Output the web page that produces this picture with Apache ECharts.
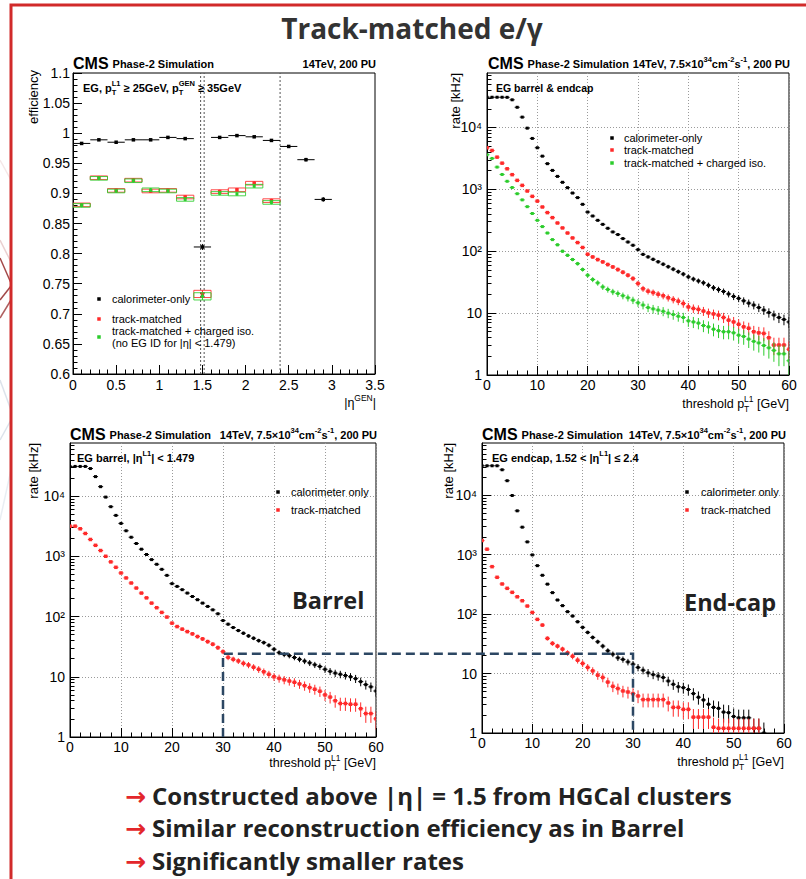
<!DOCTYPE html>
<html>
<head>
<meta charset="utf-8">
<title>Track-matched e/γ</title>
<script src="https://cdn.jsdelivr.net/npm/echarts@6.0.0/dist/echarts.min.js"></script>
<style>
html,body{margin:0;padding:0;background:#ffffff;}
#chart{width:806px;height:879px;}
</style>
</head>
<body>
<div id="chart"></div>
<script>
// ---------------- data ----------------
// Panel 1: efficiency vs |eta_GEN|
const etaBins      = [0.1,0.3,0.5,0.7,0.9,1.1,1.3,1.5,1.7,1.9,2.1,2.3,2.5,2.7,2.9];
const etaHalfWidth = 0.1;
const effCalo      = [0.983,0.989,0.985,0.989,0.989,0.993,0.991,0.811,0.993,0.996,0.994,0.988,0.978,0.956,0.890];
const effCaloErr   = [0.002,0.002,0.002,0.002,0.002,0.002,0.002,0.005,0.002,0.002,0.002,0.002,0.002,0.003,0.004];
const effTrk       = [0.881,0.926,0.905,0.922,0.904,0.905,0.894,0.733,0.903,0.906,0.917,0.888];
const effTrkErr    = [0.003,0.003,0.003,0.003,0.003,0.003,0.003,0.006,0.003,0.003,0.003,0.003];
const effIso       = [0.880,0.925,0.904,0.921,0.906,0.904,0.890,0.729,0.900,0.899,0.912,0.885];
const effIsoErr    = [0.003,0.003,0.003,0.003,0.003,0.003,0.003,0.006,0.003,0.003,0.003,0.003];
const etaBoundaries = [1.479,1.52,2.4];

// Rate panels: threshold in GeV
const thresholds = [0,1,2,3,4,5,6,7,8,9,10,11,12,13,14,15,16,17,18,19,20,21,22,23,24,25,26,27,28,29,30,
                    31,32,33,34,35,36,37,38,39,40,41,42,43,44,45,46,47,48,49,50,51,52,53,54,55,56,57,58,59,60];
const thrHalfWidth = 0.5;

// Panel 2: EG barrel & endcap
const rateAllCalo = [30800,30800,30800,30800,30700,28000,21200,14700,9750,6650,
                     4700,3440,2600,2025,1620,1300,1065,872,735,573,
                     430,371,316,272,235,205,186,160,141,125,
                     106,89,81,74,67.6,61.7,56.2,51.3,46.8,42.7,
                     38.5,35.5,33.1,30.9,28.2,25.7,24,22.4,20.4,18.6,
                     17.3,15.8,14.5,13.5,12.3,11.2,10.2,9.3,8.5,7.9,7.2];
const rateAllTrk  = [4700,4250,3315,2650,2150,1727,1397,1160,940,771,
                     646,519,421,349,286,238,197,164,138,115,
                     89.5,80.9,73.3,67.3,61,55.8,50.6,45.8,41,36.2,
                     30.1,24.8,22.6,21.5,20.2,19.1,17.7,16.6,15.6,14.3,
                     12.6,11.9,11.5,10.8,10.1,9.7,9.3,8.5,7.7,7.2,
                     6.6,6.0,5.7,5.0,4.8,4.7,4.0,3.05,3.05,3.05,2.6];
const rateAllIso  = [3630,3160,2290,1740,1350,1070,850,676,525,407,
                     316,250,197,154,127,100,86,73.5,63,50.7,
                     41,34.9,30.8,26.5,24.1,22.1,20.7,19.1,17.7,16.2,
                     14.7,13.5,12.3,11.7,11.2,10.7,10,9.5,8.9,8.5,
                     7.5,7.2,6.9,6.3,6.0,5.5,5.2,5.0,5.0,4.8,
                     4.4,4.2,3.8,3.5,3.3,3.0,2.75,2.5,2.2,2.2,1.7];
// Panel 3: EG barrel
const rateBarCalo = [31000,31000,31000,31000,28600,21000,14300,9600,6650,4770,
                     3510,2650,2070,1630,1310,1070,880,736,607,482,
                     351,316,279,245,215,190,167,147,129,111,
                     85.7,74.6,65.6,58.5,52.8,47.6,43.6,39.8,36.9,33.3,
                     28.6,25.1,23.4,22.4,20.9,19.5,18.2,17.0,15.8,14.8,
                     13.3,12.3,11.5,11.0,10.5,10.0,9.3,8.3,7.4,6.8,5.8];
const rateBarTrk  = [3160,3160,2860,2390,1900,1520,1245,1000,807,656,
                     528,437,360,297,245,204,167,140,117,98,
                     77.6,68.1,61.7,56.2,51.5,46.5,42.5,38.3,34.7,30.4,
                     26.1,21.0,19.5,18.3,16.7,15.7,14.4,13.3,12.1,11.0,
                     10.0,9.4,8.9,8.5,8.1,7.6,7.1,6.6,6.2,5.75,
                     5.0,4.6,4.0,3.6,3.6,3.5,3.5,2.95,2.45,2.45,2.0];
// Panel 4: EG endcap
const rateEndCalo = [31400,31400,31400,31400,26900,17600,9930,5480,2910,1645,
                     993,655,451,320,230,173,139,110,93,74.5,
                     60,49.3,40.6,34.3,29.0,24.2,21.2,18.4,17.3,15.7,
                     14.4,12.7,11.4,10.3,9.6,9.1,8.6,7.5,6.6,6.0,
                     5.8,5.4,4.6,4.0,3.6,3.05,2.7,2.6,2.25,2.2,
                     1.9,1.8,1.8,1.8,1.2,1.2,1.0,null,null,null,null];
const rateEndTrk  = [1730,1240,630,417,322,272,233,196,168,137,
                     107,81.7,65.5,39.1,32.2,29.0,25.8,22.3,19.6,16.8,
                     14.8,12.7,11.1,9.4,8.6,7.2,6.1,5.6,5.1,4.9,
                     4.6,4.2,3.65,3.65,3.65,3.65,3.65,3.2,2.7,2.7,
                     2.5,2.5,1.85,1.85,1.85,1.85,1.25,1.2,1.2,1.2,
                     1.2,1.2,1.2,1.2,1.2,1.2,null,null,null,null,null];
// statistical scale (kHz per event) used for the error bars of each rate panel
const kHzPerEventAll = 0.3, kHzPerEventBar = 0.22, kHzPerEventEnd = 0.25;

// axis ticks
const rateTickValues = [1,10,100,1000,10000];
const rateTickLabels = ['1','10','10\u00b2','10\u00b3','10\u2074'];
const rateAxisMax = 75900;
// dashed comparison: threshold 30 GeV, barrel rate level
const refThreshold = 30, refRate = 24;

// ---------------- helpers ----------------
const FAM = '"Liberation Sans", Arial, Helvetica, sans-serif';
const OS  = '"Open Sans", "Noto Sans", sans-serif';
const BLACK = '#000000', RED = '#ff2a2a', GREEN = '#2ccc2c';

const mctx = document.createElement('canvas').getContext('2d');
function font(size, bold, fam) { return (bold ? 'bold ' : '') + size + 'px ' + (fam || FAM); }
function tw(str, f) { mctx.font = f; return mctx.measureText(str).width; }

const els = [];
function T(text, x, y, size, o) {
  o = o || {};
  els.push({
    type: 'text', x: x, y: y, rotation: o.rot || 0, silent: true, z: 100,
    style: { text: text, x: 0, y: 0, font: font(size, o.bold, o.fam), fill: o.color || '#000',
             textAlign: o.align || 'left', textVerticalAlign: o.va || 'middle' }
  });
}
// run of text pieces with stacked super/subscripts
function run(parts, x, y, align, color) {
  const ws = parts.map(p => {
    const f = font(p.s, p.b);
    if (p.t == null) return Math.max(p.sup ? tw(p.sup, f) : 0, p.sub ? tw(p.sub, f) : 0);
    return tw(p.t, f);
  });
  const total = ws.reduce((a, b) => a + b, 0);
  let cx = align === 'right' ? x - total : (align === 'center' ? x - total / 2 : x);
  parts.forEach((p, i) => {
    if (p.t != null) T(p.t, cx, y, p.s, { bold: p.b, color: color });
    if (p.sup != null) T(p.sup, cx, y + (p.up || -5), p.s, { bold: p.b, color: color });
    if (p.sub != null) T(p.sub, cx, y + (p.dn || 5), p.s, { bold: p.b, color: color });
    cx += ws[i];
  });
}
function rect(x, y, w, h, fill) {
  els.push({ type: 'rect', silent: true, z: 100, shape: { x: x, y: y, width: w, height: h }, style: { fill: fill } });
}

function errRender(color, box, ms) {
  return function (params, api) {
    const x = api.value(0), y = api.value(1), lo = api.value(2), hi = api.value(3);
    const x0 = api.value(4), x1 = api.value(5);
    const c = api.coord([x, y]);
    const l = api.coord([x0, y]), r = api.coord([x1, y]);
    const b = api.coord([x, lo]), t = api.coord([x, hi]);
    const ch = [];
    if (box) {
      const top = Math.min(t[1], c[1] - 1.6), bot = Math.max(b[1], c[1] + 1.6);
      ch.push({ type: 'rect', shape: { x: l[0], y: top, width: r[0] - l[0], height: bot - top },
                style: { fill: 'none', stroke: color, lineWidth: 1, opacity: 0.85 } });
    } else {
      ch.push({ type: 'line', shape: { x1: l[0], y1: c[1], x2: r[0], y2: c[1] }, style: { stroke: color, lineWidth: 1 } });
    }
    ch.push({ type: 'line', shape: { x1: c[0], y1: b[1], x2: c[0], y2: t[1] }, style: { stroke: color, lineWidth: 1 } });
    ch.push({ type: 'rect', shape: { x: c[0] - ms / 2, y: c[1] - ms / 2, width: ms, height: ms }, style: { fill: color } });
    return { type: 'group', children: ch };
  };
}
function effPoints(vals, errs) {
  return vals.map((v, i) => [etaBins[i], v, v - errs[i], v + errs[i], etaBins[i] - etaHalfWidth, etaBins[i] + etaHalfWidth]);
}
function ratePoints(vals, k) {
  const pts = [];
  vals.forEach((v, i) => {
    if (v == null) return;
    const e = Math.sqrt(v * k);
    const t = thresholds[i];
    pts.push([t, v, Math.max(v - e, 1), v + e, Math.max(t - thrHalfWidth, 0), Math.min(t + thrHalfWidth, 60)]);
  });
  return pts;
}
function errSeries(xi, yi, pts, color, box, ms) {
  return { type: 'custom', xAxisIndex: xi, yAxisIndex: yi, clip: true, silent: true, animation: false,
           encode: { x: 0, y: 1 }, data: pts, renderItem: errRender(color, box, ms), z: 10 };
}

const tickStyle = { color: '#000', width: 1 };
const labelStyle = { fontSize: 14, color: '#000', fontFamily: FAM };
function gridBox(left, top, width, height) {
  return { left: left, top: top, width: width, height: height, show: true, borderColor: '#000', borderWidth: 1,
           containLabel: false, outerBoundsMode: 'none' };
}
function rateXAxis(gi) {
  return { type: 'value', gridIndex: gi, min: 0, max: 60, interval: 10,
           axisLine: { show: true, onZero: false, lineStyle: tickStyle },
           axisTick: { show: true, inside: true, length: 9, lineStyle: tickStyle },
           minorTick: { show: true, splitNumber: 5, length: 4.5, lineStyle: tickStyle },
           axisLabel: Object.assign({ margin: 3 }, labelStyle),
           splitLine: { show: true, lineStyle: { color: '#9a9a9a', type: [1, 2], width: 1 } } };
}
function rateYAxis(gi) {
  return { type: 'log', logBase: 10, gridIndex: gi, min: 1, max: rateAxisMax, position: 'left',
           axisLine: { show: true, onZero: false, lineStyle: tickStyle },
           axisTick: { show: true, inside: true, length: 9, lineStyle: tickStyle, customValues: rateTickValues },
           axisLabel: Object.assign({ margin: 5, customValues: rateTickValues,
             formatter: v => { const i = rateTickValues.findIndex(t => Math.abs(t - v) / t < 1e-6); return i >= 0 ? rateTickLabels[i] : ''; } }, labelStyle),
           splitLine: { show: true, lineStyle: { color: '#9a9a9a', type: [1, 2], width: 1 } } };
}
const rateMinorValues = [];
for (let d = 1; d <= 10000; d *= 10) for (let m = 2; m <= 9; m++) if (m * d < rateAxisMax) rateMinorValues.push(m * d);
function rateYMinor(gi) {
  return { type: 'log', logBase: 10, gridIndex: gi, min: 1, max: rateAxisMax, position: 'left', offset: 0,
           axisLine: { show: false },
           axisTick: { show: true, inside: true, length: 4.5, lineStyle: tickStyle, customValues: rateMinorValues },
           axisLabel: { show: false }, splitLine: { show: false } };
}

// ---------------- chart ----------------
const chart = echarts.init(document.getElementById('chart'), null, { renderer: 'svg', width: 806, height: 879 });

const option = {
  animation: false,
  backgroundColor: '#ffffff',
  grid: [gridBox(73, 73, 302, 301), gridBox(487, 73, 302, 302), gridBox(70, 443, 306, 294), gridBox(482, 443, 302, 290)],
  xAxis: [
    { type: 'value', gridIndex: 0, min: 0, max: 3.5, interval: 0.5,
      axisLine: { show: true, onZero: false, lineStyle: tickStyle },
      axisTick: { show: true, inside: true, length: 9, lineStyle: tickStyle },
      minorTick: { show: true, splitNumber: 5, length: 4.5, lineStyle: tickStyle },
      axisLabel: Object.assign({ margin: 4 }, labelStyle), splitLine: { show: false } },
    rateXAxis(1), rateXAxis(2), rateXAxis(3)
  ],
  yAxis: [
    { type: 'value', gridIndex: 0, min: 0.6, max: 1.1, interval: 0.05, position: 'left',
      axisLine: { show: true, onZero: false, lineStyle: tickStyle },
      axisTick: { show: true, inside: true, length: 9, lineStyle: tickStyle },
      minorTick: { show: true, splitNumber: 5, length: 4.5, lineStyle: tickStyle },
      axisLabel: Object.assign({ margin: 3 }, labelStyle), splitLine: { show: false } },
    rateYAxis(1), rateYMinor(1),
    rateYAxis(2), rateYMinor(2),
    rateYAxis(3), rateYMinor(3)
  ],
  series: [
    { type: 'custom', xAxisIndex: 0, yAxisIndex: 0, silent: true, animation: false, z: 5,
      encode: { x: 0 }, data: etaBoundaries.map(v => [v]),
      renderItem: function (params, api) {
        const v = api.value(0);
        const a = api.coord([v, 0.6]), b = api.coord([v, 1.1]);
        return { type: 'line', shape: { x1: a[0], y1: a[1], x2: b[0], y2: b[1] },
                 style: { stroke: '#555', lineWidth: 1, lineDash: [2, 2] } };
      } },
    errSeries(0, 0, effPoints(effCalo, effCaloErr), BLACK, false, 3.5),
    errSeries(0, 0, effPoints(effTrk, effTrkErr), RED, true, 3.5),
    errSeries(0, 0, effPoints(effIso, effIsoErr), GREEN, true, 3),

    errSeries(1, 1, ratePoints(rateAllCalo, kHzPerEventAll), BLACK, false, 3),
    errSeries(1, 1, ratePoints(rateAllTrk, kHzPerEventAll), RED, false, 3.5),
    errSeries(1, 1, ratePoints(rateAllIso, kHzPerEventAll), GREEN, false, 3),

    errSeries(2, 3, ratePoints(rateBarCalo, kHzPerEventBar), BLACK, false, 3),
    errSeries(2, 3, ratePoints(rateBarTrk, kHzPerEventBar), RED, false, 3.5),

    errSeries(3, 5, ratePoints(rateEndCalo, kHzPerEventEnd), BLACK, false, 3),
    errSeries(3, 5, ratePoints(rateEndTrk, kHzPerEventEnd), RED, false, 3.5)
  ]
};
chart.setOption(option);

// ---------------- texts & decorations ----------------
// faint background decoration left of the frame
[[0,258,11,283,'#8b1a1a',0.8],[0,300,11,286,'#8b1a1a',0.8],[0,318,11,300,'#8b1a1a',0.7],[0,240,11,262,'#c98a8a',0.4],
 [0,160,11,180,'#e3c4c4',0.4],[0,380,11,410,'#b9c8d8',0.5],[0,440,11,420,'#b9c8d8',0.5],[0,520,11,470,'#c8d4e0',0.4]]
 .forEach(l => els.push({ type: 'line', silent: true, z: 90, shape: { x1: l[0], y1: l[1], x2: l[2], y2: l[3] },
   style: { stroke: l[4], lineWidth: 1.5, opacity: l[5] } }));
// red slide frame
els.push({ type: 'polyline', silent: true, z: 95, shape: { points: [[11, 890], [11, 5], [820, 5]] },
  style: { stroke: '#d12a2a', lineWidth: 3, fill: 'none' } });

// page title
T('Track-matched e/\u03b3', 412, 28, 28, { bold: true, fam: OS, align: 'center', color: '#333333' });

// CMS headers
function header(x0, xr, y, energyParts) {
  T('CMS', x0, y, 16, { bold: true });
  T('Phase-2 Simulation', x0 + tw('CMS', font(16, true)) + 4, y + 1, 11, { bold: true });
  run(energyParts, xr, y + 1, 'right', '#000');
}
const lumiParts = [{ t: '14TeV, 7.5\u00d710', s: 11, b: 1 }, { sup: '34', s: 7.5, b: 1, up: -4.5 },
                   { t: 'cm', s: 11, b: 1 }, { sup: '-2', s: 7.5, b: 1, up: -4.5 }, { t: 's', s: 11, b: 1 },
                   { sup: '-1', s: 7.5, b: 1, up: -4.5 }, { t: ', 200 PU', s: 11, b: 1 }];
header(73, 376, 63, [{ t: '14TeV, 200 PU', s: 11, b: 1 }]);
header(488, 790, 63, lumiParts);
header(70, 377, 434, lumiParts);
header(482, 786, 434, lumiParts);

// in-frame labels
run([{ t: 'EG, p', s: 11, b: 1 }, { sup: 'L1', sub: 'T', s: 7.5, b: 1, up: -4.5, dn: 4.5 },
     { t: ' \u2265 25GeV, p', s: 11, b: 1 }, { sup: 'GEN', sub: 'T', s: 7.5, b: 1, up: -4.5, dn: 4.5 },
     { t: ' \u2265 35GeV', s: 11, b: 1 }], 83, 88, 'left', '#000');
T('EG barrel & endcap', 496, 88, 10.5, { bold: true });
run([{ t: 'EG barrel, |\u03b7', s: 11, b: 1 }, { sup: 'L1', s: 7.5, b: 1, up: -4.5 }, { t: '| < 1.479', s: 11, b: 1 }], 77, 458, 'left', '#000');
run([{ t: 'EG endcap, 1.52 < |\u03b7', s: 11, b: 1 }, { sup: 'L1', s: 7.5, b: 1, up: -4.5 }, { t: '| \u2264 2.4', s: 11, b: 1 }], 492, 458, 'left', '#000');

// axis titles
T('efficiency', 33, 70, 13, { rot: Math.PI / 2, align: 'right' });
T('rate [kHz]', 455, 73, 13, { rot: Math.PI / 2, align: 'right' });
T('rate [kHz]', 33, 443, 13, { rot: Math.PI / 2, align: 'right' });
T('rate [kHz]', 448, 443, 13, { rot: Math.PI / 2, align: 'right' });
run([{ t: '|\u03b7', s: 12.5 }, { sup: 'GEN', s: 8.5, up: -5.5 }, { t: '|', s: 12.5 }], 376, 403, 'right', '#000');
const thrTitle = [{ t: 'threshold p', s: 12.5 }, { sup: 'L1', sub: 'T', s: 8.5, up: -5.5, dn: 5 }, { t: ' [GeV]', s: 12.5 }];
run(thrTitle, 789, 404, 'right', '#000');
run(thrTitle, 376, 763, 'right', '#000');
run(thrTitle, 784, 762, 'right', '#000');

// legends
function legendItem(mx, y, color, text, tx) {
  rect(mx - 1.75, y - 1.75, 3.5, 3.5, color);
  if (Array.isArray(text)) { T(text[0], tx, y - 6, 11); T(text[1], tx, y + 6, 11); }
  else T(text, tx, y, 11);
}
legendItem(99, 299, BLACK, 'calorimeter-only', 112);
legendItem(99, 319, RED, 'track-matched', 112);
legendItem(99, 337, GREEN, ['track-matched + charged iso.', '(no EG ID for |\u03b7| < 1.479)'], 112);
legendItem(612, 138, BLACK, 'calorimeter-only', 624);
legendItem(612, 150, RED, 'track-matched', 624);
legendItem(612, 163, GREEN, 'track-matched + charged iso.', 624);
legendItem(278, 492, BLACK, 'calorimeter only', 291);
legendItem(278, 510, RED, 'track-matched', 291);
legendItem(687, 492, BLACK, 'calorimeter only', 701);
legendItem(687, 510, RED, 'track-matched', 701);

// big region labels
T('Barrel', 292, 600, 23.5, { bold: true, fam: OS, color: '#222222' });
T('End-cap', 684, 602, 23.5, { bold: true, fam: OS, color: '#222222' });

// bullets
const bullets = ['Constructed above |\u03b7| = 1.5 from HGCal clusters',
                 'Similar reconstruction efficiency as in Barrel',
                 'Significantly smaller rates'];
bullets.forEach((b, i) => {
  const y = 795 + i * 32.5;
  T('\u2192', 125, y + 1, 25, { bold: true, fam: '"DejaVu Sans", sans-serif', color: '#e3262b' });
  T(b, 152, y, 24, { bold: true, fam: OS, color: '#222222' });
});

// dashed comparison line between barrel and endcap at the 30 GeV threshold
const pTop = chart.convertToPixel({ xAxisIndex: 2, yAxisIndex: 3 }, [refThreshold, refRate]);
const pBot = chart.convertToPixel({ xAxisIndex: 2, yAxisIndex: 3 }, [refThreshold, 1]);
const qBot = chart.convertToPixel({ xAxisIndex: 3, yAxisIndex: 5 }, [refThreshold, 1]);
els.push({ type: 'polyline', silent: true, z: 99,
  shape: { points: [[pBot[0], pBot[1]], [pTop[0], pTop[1]], [qBot[0], pTop[1]], [qBot[0], qBot[1]]] },
  style: { stroke: '#2c4763', lineWidth: 2.5, lineDash: [9, 5], fill: 'none' } });

chart.setOption({ graphic: { elements: els } });
</script>
</body>
</html>
